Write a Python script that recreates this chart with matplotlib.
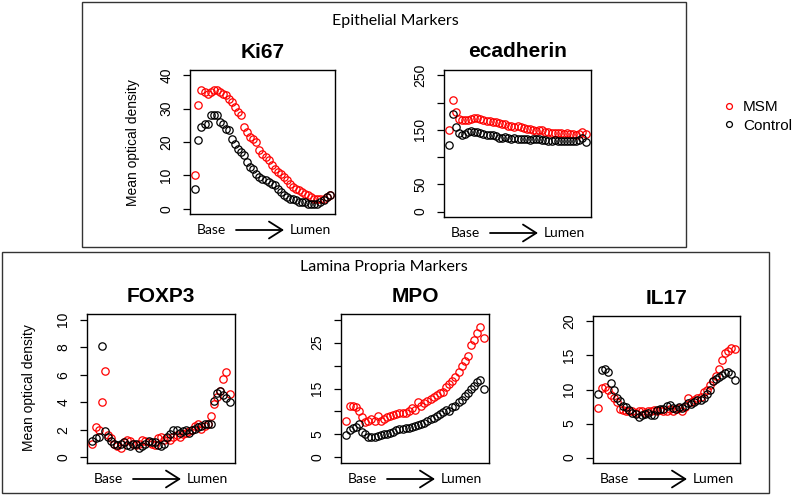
import matplotlib
matplotlib.use('Agg')
import matplotlib.pyplot as plt
from matplotlib.patches import Rectangle

plt.rcParams['font.family'] = ['Liberation Sans', 'DejaVu Sans']

W, H = 800, 495

# mean optical density, base -> lumen (45 positions)
ki67_msm = [10, 31, 35.5, 35, 34.5, 35, 35.5, 35.5, 35, 34.5, 34, 33, 32, 30.5, 29, 28,
            24.5, 23, 21.5, 21, 20, 17.5, 16.5, 15.5, 14.5, 13, 12, 11, 10.5, 9.5, 8.5,
            7.5, 6.5, 6, 5.5, 5, 4.5, 4, 3.5, 3, 3, 3, 3, 3.5, 4]
ki67_ctrl = [6, 20.5, 24.5, 25.5, 25.5, 28, 28, 28, 26, 25.5, 24, 23.5, 21, 19.5, 18, 17,
             16, 14, 12.5, 12, 10.5, 9.5, 9, 8.5, 8, 7.5, 7, 6, 5, 4, 3.5, 3, 3, 2.5, 2,
             2, 2, 1.5, 1.5, 1.5, 1.5, 2, 2.5, 3.5, 4]

ecad_msm = [150, 205, 182, 170, 168, 168, 168, 170, 172, 171, 170, 168, 167, 166, 165,
            164, 162, 161, 160, 158, 157, 156, 157, 155, 154, 152, 151, 150, 148, 150,
            149, 147, 146, 145, 145, 145, 144, 143, 144, 143, 142, 140, 143, 146, 142]
ecad_ctrl = [122, 180, 155, 145, 140, 142, 147, 148, 146, 146, 145, 142, 141, 140, 140,
             138, 136, 136, 137, 135, 134, 135, 134, 133, 133, 134, 132, 133, 134, 133,
             132, 131, 130, 130, 131, 130, 130, 129, 130, 130, 129, 130, 132, 135, 128]

foxp3_msm = [1.0, 2.2, 2.0, 4.0, 6.3, 1.6, 1.4, 1.0, 0.8, 0.7, 1.1, 1.3, 1.2, 1.0, 0.9,
             1.0, 1.3, 1.2, 1.1, 1.0, 0.9, 1.4, 1.5, 1.3, 1.4, 1.3, 1.5, 1.6, 1.5, 1.7,
             1.8, 1.9, 2.0, 2.3, 2.4, 2.1, 2.3, 2.4, 3.0, 3.9, 4.4, 4.8, 5.7, 6.2, 4.6]
foxp3_ctrl = [1.2, 1.4, 1.5, 8.1, 1.9, 1.5, 1.2, 1.0, 0.9, 1.0, 1.1, 0.9, 0.8, 1.0, 1.0,
              0.7, 0.8, 1.0, 1.2, 1.1, 1.1, 0.9, 0.8, 1.0, 1.5, 1.7, 2.0, 2.0, 1.8, 1.9,
              2.0, 1.8, 2.0, 2.1, 2.2, 2.3, 2.4, 2.4, 2.4, 4.1, 4.7, 4.8, 4.5, 4.3, 4.0]

mpo_msm = [8.0, 11.3, 11.3, 11.0, 10.0, 8.8, 7.8, 8.0, 8.4, 8.0, 9.0, 8.0, 8.4, 8.8, 9.0,
           9.3, 9.5, 9.6, 9.7, 9.6, 10.0, 10.8, 10.3, 12.0, 11.3, 11.8, 12.3, 12.8, 13.2,
           13.5, 14.0, 14.3, 15.3, 16.0, 16.7, 17.5, 18.5, 20.0, 21.0, 22.0, 24.5, 25.5,
           27.0, 28.3, 26.0]
mpo_ctrl = [4.8, 6.0, 6.4, 6.7, 7.2, 5.5, 5.2, 4.5, 4.4, 4.5, 4.6, 4.8, 5.0, 5.1, 5.3,
            5.5, 6.0, 6.2, 6.3, 6.5, 6.4, 6.6, 6.8, 7.0, 7.2, 7.5, 7.9, 8.3, 8.6, 9.0,
            9.5, 9.8, 10.3, 10.2, 11.0, 11.3, 12.0, 12.6, 13.3, 14.0, 15.0, 15.5, 16.5,
            16.8, 14.9]

il17_msm = [7.3, 10.2, 10.4, 10.0, 9.2, 8.7, 8.2, 7.2, 7.0, 6.9, 6.8, 6.8, 6.6, 6.9, 6.8,
            6.6, 6.8, 6.9, 7.0, 6.8, 7.0, 6.8, 6.9, 7.2, 6.8, 7.1, 7.3, 6.9, 7.5, 8.7,
            8.1, 8.4, 8.8, 8.9, 9.6, 10.0, 10.6, 11.3, 12.0, 13.0, 14.4, 15.3, 15.6, 16.1,
            16.0]
il17_ctrl = [9.3, 12.9, 13.0, 12.5, 10.9, 9.9, 8.7, 8.3, 7.6, 7.4, 7.0, 6.5, 6.4, 5.9,
             6.2, 6.4, 6.5, 6.3, 6.2, 7.0, 7.2, 7.1, 7.6, 7.7, 7.3, 7.2, 7.5, 7.3, 7.6,
             8.0, 7.9, 8.2, 8.4, 8.5, 8.8, 9.4, 10.0, 11.2, 11.6, 11.9, 12.2, 12.4, 12.6,
             12.3, 11.4]

# name, msm, control, box in pixels (left, top, right, bottom), ymax, ticks, tick labels
panels = [
    ('Ki67', ki67_msm, ki67_ctrl, (190, 70, 335, 214), 40,
     [0, 10, 20, 30, 40], ['0', '10', '20', '30', '40']),
    ('ecadherin', ecad_msm, ecad_ctrl, (444, 70, 591, 217), 250,
     [0, 50, 100, 150, 200, 250], ['0', '50', '', '150', '', '250']),
    ('FOXP3', foxp3_msm, foxp3_ctrl, (87, 314, 235, 463), 10,
     [0, 2, 4, 6, 8, 10], ['0', '2', '4', '6', '8', '10']),
    ('MPO', mpo_msm, mpo_ctrl, (341, 314, 489, 463), 30,
     [0, 5, 10, 15, 20, 25, 30], ['0', '5', '', '15', '', '25', '']),
    ('IL17', il17_msm, il17_ctrl, (593, 316, 740, 463), 20,
     [0, 5, 10, 15, 20], ['0', '5', '10', '15', '20']),
]

fig = plt.figure(figsize=(W / 100, H / 100), dpi=100)

ov = fig.add_axes([0, 0, 1, 1])
ov.set_xlim(0, W)
ov.set_ylim(H, 0)
ov.axis('off')

# section frames
ov.add_patch(Rectangle((82, 2), 604, 245, fill=False, ec='#333333', lw=1))
ov.add_patch(Rectangle((2, 252), 767, 241, fill=False, ec='#333333', lw=1))
ov.text(395, 21, 'Epithelial Markers', ha='center', va='center',
        family=['Lato', 'DejaVu Sans'], fontsize=11.5)
ov.text(384, 267, 'Lamina Propria Markers', ha='center', va='center',
        family=['Lato', 'DejaVu Sans'], fontsize=11.5)

handles = None
for name, msm, ctrl, (l, t, r, b), ymax, ticks, labels in panels:
    ax = fig.add_axes([l / W, 1 - b / H, (r - l) / W, (b - t) / H])
    n = len(msm)
    x = list(range(1, n + 1))
    pad = 0.04 * (n - 1)
    h1, = ax.plot(x, msm, 'o', mfc='none', mec='red', ms=5.3, mew=0.9)
    h2, = ax.plot(x, ctrl, 'o', mfc='none', mec='black', ms=5.3, mew=0.9)
    handles = [h1, h2]
    ax.set_xlim(1 - pad, n + pad)
    ax.set_ylim(-0.04 * ymax, 1.04 * ymax)
    ax.set_xticks([])
    ax.set_yticks(ticks)
    ax.set_yticklabels(labels, rotation=90, va='center')
    ax.tick_params(axis='y', direction='out', length=5, width=0.9, pad=7, labelsize=10)
    for s in ax.spines.values():
        s.set_linewidth(1.0)
    ax.set_title(name, fontsize=15, fontweight='bold', pad=9)

    # Base -> Lumen label under each panel
    yb = b + 16
    ov.text(l + 21, yb, 'Base', ha='center', va='center',
            family=['Lato', 'DejaVu Sans'], fontsize=10)
    ov.text(l + 120, yb, 'Lumen', ha='center', va='center',
            family=['Lato', 'DejaVu Sans'], fontsize=10)
    ov.annotate('', xy=(l + 94, yb), xytext=(l + 46, yb),
                arrowprops=dict(arrowstyle='->,head_length=0.6,head_width=0.38',
                                lw=1.3, color='black', mutation_scale=16,
                                shrinkA=0, shrinkB=0))

ov.text(133, 143, 'Mean optical density', rotation=90, ha='center', va='center', fontsize=10)
ov.text(29, 388, 'Mean optical density', rotation=90, ha='center', va='center', fontsize=10)

fig.legend(handles, ['MSM', 'Control'], loc='upper left',
           bbox_to_anchor=(723 / W, 1 - 100 / H), frameon=False, fontsize=11,
           handlelength=0.8, handletextpad=0.5, labelspacing=0.3, borderpad=0,
           borderaxespad=0, markerscale=0.8)

fig.savefig('out.png', dpi=100)
